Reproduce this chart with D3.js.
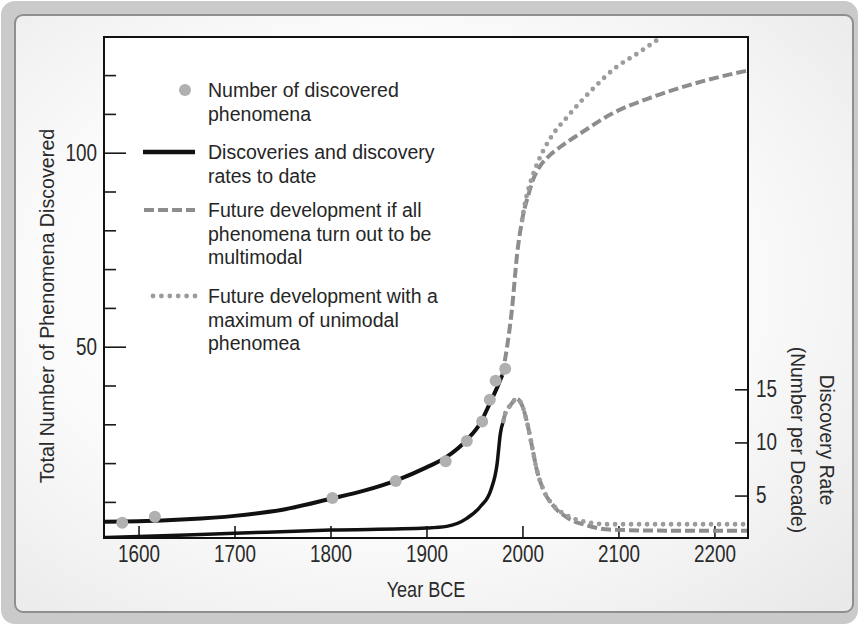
<!DOCTYPE html>
<html>
<head>
<meta charset="utf-8">
<script src="https://cdnjs.cloudflare.com/ajax/libs/d3/7.8.5/d3.min.js"></script>
<style>
  body { margin: 0; background: #fff; }
</style>
</head>
<body>
<script>
// Data
// =================================
// gray dots: number of discovered phenomena
var dotYears = [1583, 1617, 1802, 1868, 1920, 1942, 1958, 1966, 1972, 1982];
var dotCounts = [4.6, 6.2, 11.0, 15.4, 20.5, 25.7, 30.7, 36.3, 41.2, 44.3];

// black line: discoveries to date (left axis)
var cumYears = [1564, 1600, 1650, 1700, 1750, 1800, 1835, 1868, 1900, 1921, 1942, 1956, 1966, 1974, 1979];
var cumValues = [4.9, 5.0, 5.5, 6.4, 8.0, 10.8, 12.9, 15.5, 18.9, 21.6, 26.0, 30.3, 35.4, 39.7, 42.7];

// dashed: all phenomena multimodal (left axis)
var multiYears = [1979, 1984, 1989, 1994.5, 1999.7, 2006.6, 2011, 2018, 2027, 2040, 2060.5, 2092, 2137, 2189, 2235];
var multiValues = [42.7, 50, 59.5, 74, 82.7, 89.5, 93.0, 96.4, 99.0, 101.6, 105, 109.9, 114.5, 118.5, 121.2];

// dotted: maximum of unimodal phenomena (left axis)
var uniYears = [1999.7, 2003, 2008, 2017, 2029, 2047, 2074, 2096, 2120, 2143];
var uniValues = [82.7, 87.4, 92.1, 98.1, 103.7, 109.3, 116.6, 121.7, 125.6, 129.5];

// black line: discovery rate to date (right axis)
var rateYears = [1564, 1650, 1700, 1800, 1900, 1921, 1942, 1956, 1967, 1973.6, 1977, 1980];
var rateValues = [1.05, 1.3, 1.45, 1.75, 1.95, 2.1, 2.85, 3.95, 5.5, 8.0, 10.85, 12.0];

// future discovery rates (right axis)
var multiRateYears = [1980, 1982, 1987.5, 1994, 2000, 2005, 2010, 2015, 2022, 2033, 2047, 2067, 2090, 2150, 2235];
var multiRateValues = [12.0, 12.7, 13.5, 14.1, 13.4, 11.8, 9.6, 7.4, 5.5, 3.95, 2.9, 2.2, 1.8, 1.7, 1.7];
var uniRateYears = [1980, 1982, 1987.5, 1994, 2000, 2005, 2010, 2015, 2022, 2033, 2047, 2067, 2090, 2150, 2235];
var uniRateValues = [12.0, 12.7, 13.5, 14.1, 13.4, 11.8, 9.6, 7.4, 5.5, 4.0, 3.1, 2.5, 2.3, 2.3, 2.3];

// ticks
var xTicks = [1600, 1700, 1800, 1900, 2000, 2100, 2200];
var leftMinorTicks = [10, 20, 30, 40, 60, 70, 80, 90, 110, 120];
var leftMajorTicks = [50, 100];
var rightTicks = [5, 10, 15];

// legend
var legendKeys = ["dot", "solid", "dashed", "dotted"];
var legendTexts = [
  ["Number of discovered", "phenomena"],
  ["Discoveries and discovery", "rates to date"],
  ["Future development if all", "phenomena turn out to be", "multimodal"],
  ["Future development with a", "maximum of unimodal", "phenomea"]
];

function pairs(xs, ys) {
  return xs.map(function(x, i) { return [x, ys[i]]; });
}

// squeeze text horizontally to mimic the condensed face of the original
function condense(sel, factor) {
  sel.each(function() {
    var w = this.getComputedTextLength();
    d3.select(this)
      .attr("textLength", w * factor)
      .attr("lengthAdjust", "spacingAndGlyphs");
  });
}

// Set up the chart
//=================================
var svgWidth = 859;
var svgHeight = 625;
var plot = { left: 104, top: 37, right: 748, bottom: 538 };

var plainFont = "'Liberation Sans', Arial, sans-serif";
var dashGray = "#8d8d8d";
var dotGray = "#9c9c9c";

var svg = d3.select("body")
  .append("svg")
  .attr("width", svgWidth)
  .attr("height", svgHeight);

var defs = svg.append("defs");
var grad = defs.append("radialGradient")
  .attr("id", "panelGrad")
  .attr("cx", "45%").attr("cy", "45%").attr("r", "75%");
grad.append("stop").attr("offset", "0%").attr("stop-color", "#ffffff");
grad.append("stop").attr("offset", "55%").attr("stop-color", "#fbfbfb");
grad.append("stop").attr("offset", "100%").attr("stop-color", "#e9e9e9");

defs.append("clipPath").attr("id", "plotClip")
  .append("rect")
  .attr("x", plot.left).attr("y", plot.top)
  .attr("width", plot.right - plot.left)
  .attr("height", plot.bottom - plot.top);

// outer frame
svg.append("rect")
  .attr("x", 1).attr("y", 1)
  .attr("width", svgWidth - 2).attr("height", svgHeight - 2)
  .attr("rx", 14)
  .attr("fill", "#cacaca");

svg.append("rect")
  .attr("x", 15).attr("y", 15)
  .attr("width", 838).attr("height", 597)
  .attr("rx", 8)
  .attr("fill", "url(#panelGrad)")
  .attr("stroke", "#8f8f8f")
  .attr("stroke-width", 2);

// plot background
svg.append("rect")
  .attr("x", plot.left).attr("y", plot.top)
  .attr("width", plot.right - plot.left)
  .attr("height", plot.bottom - plot.top)
  .attr("fill", "#ffffff");

// Scales
//=================================
var xScale = d3.scaleLinear().domain([1564, 2235]).range([plot.left, plot.right]);
var yScale = d3.scaleLinear().domain([0, 100]).range([540.7, 152.7]);
var rateScale = d3.scaleLinear().domain([0, 15]).range([548.7, 389.3]);

var countLine = d3.line()
  .x(d => xScale(d[0]))
  .y(d => yScale(d[1]))
  .curve(d3.curveMonotoneX);

var rateLine = d3.line()
  .x(d => xScale(d[0]))
  .y(d => rateScale(d[1]))
  .curve(d3.curveMonotoneX);

// Axes
//=================================
function styleAxis(g) {
  g.select(".domain").remove();
  g.selectAll("line").attr("stroke", "#1a1a1a").attr("stroke-width", 1.6);
  g.attr("font-size", 23).attr("font-family", plainFont);
  g.selectAll("text").attr("fill", "#2a2a2a").call(condense, 0.82);
}

svg.append("g")
  .attr("transform", `translate(${plot.left}, 0)`)
  .call(d3.axisLeft(yScale).tickValues(leftMinorTicks).tickSize(-12).tickFormat(""))
  .call(styleAxis);

svg.append("g")
  .attr("transform", `translate(${plot.left}, 0)`)
  .call(d3.axisLeft(yScale).tickValues(leftMajorTicks).tickSize(-22).tickPadding(7))
  .call(styleAxis);

svg.append("g")
  .attr("transform", `translate(0, ${plot.bottom})`)
  .call(d3.axisBottom(xScale).tickValues(xTicks).tickSize(-12).tickPadding(8).tickFormat(d3.format("d")))
  .call(styleAxis);

svg.append("g")
  .attr("transform", `translate(${plot.right}, 0)`)
  .call(d3.axisRight(rateScale).tickValues(rightTicks).tickSize(-13).tickPadding(8))
  .call(styleAxis);

// Lines
//=================================
var lines = svg.append("g").attr("clip-path", "url(#plotClip)");

lines.append("path")
  .attr("d", rateLine(pairs(rateYears, rateValues)))
  .attr("fill", "none").attr("stroke", "#111").attr("stroke-width", 3.5);

lines.append("path")
  .attr("d", countLine(pairs(cumYears, cumValues)))
  .attr("fill", "none").attr("stroke", "#111").attr("stroke-width", 4);

lines.append("path")
  .attr("d", rateLine(pairs(multiRateYears, multiRateValues)))
  .attr("fill", "none").attr("stroke", dashGray).attr("stroke-width", 4)
  .attr("stroke-dasharray", "10 4");

lines.append("path")
  .attr("d", rateLine(pairs(uniRateYears, uniRateValues)))
  .attr("fill", "none").attr("stroke", dotGray).attr("stroke-width", 4.8)
  .attr("stroke-linecap", "round").attr("stroke-dasharray", "0 8");

lines.append("path")
  .attr("d", countLine(pairs(multiYears, multiValues)))
  .attr("fill", "none").attr("stroke", dashGray).attr("stroke-width", 4)
  .attr("stroke-dasharray", "10 4");

lines.append("path")
  .attr("d", countLine(pairs(uniYears, uniValues)))
  .attr("fill", "none").attr("stroke", dotGray).attr("stroke-width", 4.8)
  .attr("stroke-linecap", "round").attr("stroke-dasharray", "0 8");

// dots
lines.selectAll("circle")
  .data(pairs(dotYears, dotCounts))
  .enter()
  .append("circle")
  .attr("cx", d => xScale(d[0]))
  .attr("cy", d => yScale(d[1]))
  .attr("r", 6)
  .attr("fill", "#b0b0b0");

// plot frame
svg.append("rect")
  .attr("x", plot.left).attr("y", plot.top)
  .attr("width", plot.right - plot.left)
  .attr("height", plot.bottom - plot.top)
  .attr("fill", "none")
  .attr("stroke", "#111")
  .attr("stroke-width", 2);

// Legend
//=================================
var legendBaselines = [97, 159, 217, 303];
var lineGap = 23.7;

var legend = svg.append("g")
  .attr("font-family", plainFont)
  .attr("font-size", 19.5)
  .attr("fill", "#262626");

legendKeys.forEach(function(key, i) {
  var sy = legendBaselines[i] - 7;
  if (key === "dot") {
    legend.append("circle").attr("cx", 185).attr("cy", sy).attr("r", 6).attr("fill", "#b0b0b0");
  } else if (key === "solid") {
    legend.append("line").attr("x1", 143).attr("x2", 195).attr("y1", sy).attr("y2", sy)
      .attr("stroke", "#111").attr("stroke-width", 4.5);
  } else if (key === "dashed") {
    legend.append("line").attr("x1", 144).attr("x2", 195).attr("y1", sy).attr("y2", sy)
      .attr("stroke", dashGray).attr("stroke-width", 4).attr("stroke-dasharray", "10 4");
  } else {
    legend.append("line").attr("x1", 153).attr("x2", 195).attr("y1", sy).attr("y2", sy)
      .attr("stroke", dotGray).attr("stroke-width", 4.8)
      .attr("stroke-linecap", "round").attr("stroke-dasharray", "0 8.4");
  }
  legendTexts[i].forEach(function(t, j) {
    legend.append("text")
      .attr("x", 208)
      .attr("y", legendBaselines[i] + j * lineGap)
      .text(t);
  });
});

// Axis titles
//=================================
svg.append("text")
  .attr("transform", "translate(54, 306) rotate(-90)")
  .attr("text-anchor", "middle")
  .attr("font-family", plainFont)
  .attr("font-size", 19.7)
  .attr("fill", "#2a2a2a")
  .text("Total Number of Phenomena Discovered");

svg.append("text")
  .attr("x", (plot.left + plot.right) / 2)
  .attr("y", 597)
  .attr("text-anchor", "middle")
  .attr("font-family", plainFont)
  .attr("font-size", 22)
  .attr("fill", "#2a2a2a")
  .text("Year BCE")
  .call(condense, 0.82);

svg.append("text")
  .attr("transform", "translate(820, 440) rotate(90)")
  .attr("text-anchor", "middle")
  .attr("font-family", plainFont)
  .attr("font-size", 19.3)
  .attr("fill", "#2a2a2a")
  .text("Discovery Rate");

svg.append("text")
  .attr("transform", "translate(791, 440) rotate(90)")
  .attr("text-anchor", "middle")
  .attr("font-family", plainFont)
  .attr("font-size", 19.3)
  .attr("fill", "#2a2a2a")
  .text("(Number per Decade)");
</script>
</body>
</html>
